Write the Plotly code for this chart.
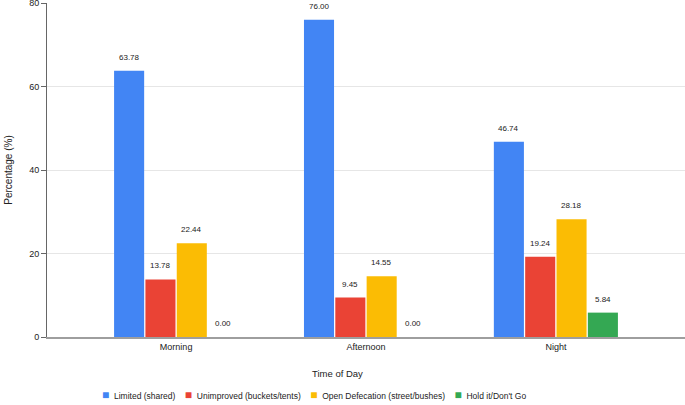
import plotly.graph_objects as go

times = ["Morning", "Afternoon", "Night"]
series_names = [
    "Limited (shared)",
    "Unimproved (buckets/tents)",
    "Open Defecation (street/bushes)",
    "Hold it/Don't Go",
]
limited = [63.78, 76.00, 46.74]
unimproved = [13.78, 9.45, 19.24]
open_def = [22.44, 14.55, 28.18]
hold_it = [0.00, 0.00, 5.84]
colors = ["#4285F4", "#EA4335", "#FBBC04", "#34A853"]

all_values = [limited, unimproved, open_def, hold_it]
FONT = "Liberation Sans, Arial, sans-serif"
BARGAP = 0.34

fig = go.Figure()
for name, vals, col in zip(series_names, all_values, colors):
    fig.add_trace(go.Bar(
        x=times, y=vals, name=name,
        marker=dict(color=col, line=dict(width=0)),
        hoverinfo="x+y+name",
    ))

# value labels over each bar
slot = (1 - BARGAP) / len(all_values)
for s, vals in enumerate(all_values):
    for c, v in enumerate(vals):
        fig.add_annotation(
            x=c - (1 - BARGAP) / 2 + slot * (s + 0.5), y=v,
            xref="x", yref="y", text=f"{v:.2f}", showarrow=False,
            yanchor="bottom", yshift=7,
            font=dict(family=FONT, size=8, color="#222222"),
        )

fig.add_annotation(
    x=0.456, y=-0.108, xref="paper", yref="paper", text="Time of Day",
    showarrow=False, yanchor="middle",
    font=dict(family=FONT, size=9.5, color="#222222"),
)

# compact legend row, Google-Sheets style
gap = "&nbsp;" * 4
legend_text = gap.join(
    f'<span style="color:{c};font-size:12px">■</span>&nbsp;&nbsp;{n}'
    for n, c in zip(series_names, colors)
)
fig.add_annotation(
    x=0.4185, y=-0.174, xref="paper", yref="paper", text=legend_text,
    showarrow=False, yanchor="middle",
    font=dict(family=FONT, size=8.5, color="#222222"),
)

fig.update_layout(
    width=685, height=405,
    margin=dict(l=47, r=0, t=3, b=68),
    barmode="group", bargap=BARGAP, bargroupgap=0.04,
    plot_bgcolor="white", paper_bgcolor="white",
    font=dict(family=FONT, size=9, color="#222222"),
    showlegend=False,
    xaxis=dict(
        range=[-0.68, 2.68], showgrid=False, showline=True,
        linecolor="#9e9e9e", linewidth=2, ticks="", automargin=False,
        tickfont=dict(family=FONT, size=9, color="#222222"),
    ),
    yaxis=dict(
        range=[0, 80], dtick=20, showgrid=True, gridcolor="#e6e6e6",
        showline=True, linecolor="#666666", linewidth=1,
        ticks="outside", ticklen=5, tickcolor="#666666",
        zeroline=False, automargin=False, ticklabeloverflow="allow",
        title=dict(text="Percentage (%)", standoff=14,
                   font=dict(family=FONT, size=10, color="#222222")),
        tickfont=dict(family=FONT, size=9, color="#222222"),
    ),
)

fig.write_html(
    "out.html",
    config={"displayModeBar": False},
    post_script="document.body.style.margin = '0';",
)
